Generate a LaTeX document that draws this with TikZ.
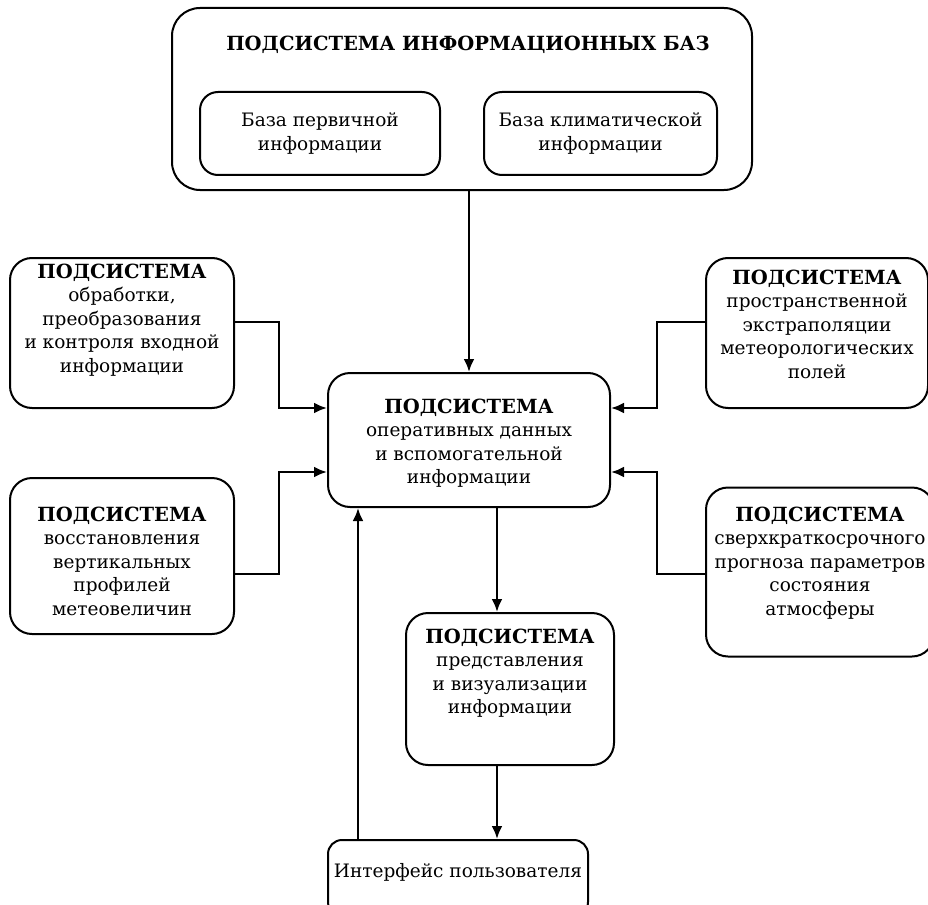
\documentclass[tikz,border=0pt]{standalone}
\usepackage{fontspec}
\setmainfont{DejaVu Serif}
\usetikzlibrary{arrows.meta}
\newcommand{\kopf}[1]{{\fontsize{19.5}{23.5}\selectfont\bfseries #1}}

\begin{document}
\begin{tikzpicture}[x=1pt, y=-1pt,
				box/.style={draw, line width=2pt, rounded corners=22pt, inner sep=0pt},
				txt/.style={align=center, font=\fontsize{18.5}{23.5}\selectfont, inner sep=0pt},
				verb/.style={->, line width=2.6pt},
				>={Latex[length=13pt,width=11pt]}]
				%Bildbereich
				\useasboundingbox (0,0) rectangle (928,904);
				\clip (0,0) rectangle (928,904);
				% Informationsbasen
				\node[box, rounded corners=28pt, minimum width=580pt, minimum height=182pt] (top) at (462,99) {};
				\node[txt] (top-t) at (468,45) {\kopf{ПОДСИСТЕМА ИНФОРМАЦИОННЫХ БАЗ}};
				\node[box, rounded corners=18pt, minimum width=240pt, minimum height=83pt] (base1) at (320,133.5) {};
				\node[txt] (base1-t) at (base1.center) {База первичной\\информации};
				\node[box, rounded corners=18pt, minimum width=233pt, minimum height=83pt] (base2) at (600.5,133.5) {};
				\node[txt] (base2-t) at (base2.center) {База климатической\\информации};
				% Mitte
				\node[box, minimum width=282pt, minimum height=134pt] (mid) at (469,440) {};
				\node[txt] (mid-t) at ([yshift=-3pt]mid.center) {\kopf{ПОДСИСТЕМА}\\оперативных данных\\и вспомогательной\\информации};
				% links
				\node[box, minimum width=224pt, minimum height=150pt] (lt) at (122,333) {};
				\node[txt] (lt-t) at ([yshift=13pt]lt.center) {\kopf{ПОДСИСТЕМА}\\обработки,\\преобразования\\и контроля входной\\информации};
				\node[box, minimum width=224pt, minimum height=156pt] (lb) at (122,556) {};
				\node[txt] (lb-t) at ([yshift=-5pt]lb.center) {\kopf{ПОДСИСТЕМА}\\восстановления\\вертикальных\\профилей\\метеовеличин};
				% rechts
				\node[box, minimum width=222pt, minimum height=150pt] (rt) at (817,333) {};
				\node[txt] (rt-t) at ([yshift=9pt]rt.center) {\kopf{ПОДСИСТЕМА}\\пространственной\\экстраполяции\\метеорологических\\полей};
				\node[box, minimum width=228pt, minimum height=169pt] (rb) at (820,572) {};
				\node[txt] (rb-t) at ([yshift=9pt]rb.center) {\kopf{ПОДСИСТЕМА}\\сверхкраткосрочного\\прогноза параметров\\состояния\\атмосферы};
				% unten
				\node[box, minimum width=208pt, minimum height=152pt] (bm) at (510,689) {};
				\node[txt] (bm-t) at ([yshift=16pt]bm.center) {\kopf{ПОДСИСТЕМА}\\представления\\и визуализации\\информации};
				\node[box, rounded corners=14pt, minimum width=260pt, minimum height=76pt] (ui) at (458,878) {};
				\node[txt] (ui-t) at (458,872) {Интерфейс пользователя};
				%Verbindungen
				\draw[verb] (top.south -| mid.north) -- (mid.north);
				\draw[verb] ([yshift=11pt]lt.east) -- ++(44,0) |- ([yshift=32pt]mid.west);
				\draw[verb] ([yshift=-18pt]lb.east) -- ++(44,0) |- ([yshift=-32pt]mid.west);
				\draw[verb] ([yshift=11pt]rt.west) -- ++(-48,0) |- ([yshift=32pt]mid.east);
				\draw[verb] ([yshift=-2pt]rb.west) -- ++(-48,0) |- ([yshift=-32pt]mid.east);
				\draw[verb] ([xshift=28pt]mid.south) -- ([xshift=28pt]mid.south |- bm.north);
				\draw[verb] ([xshift=-13pt]bm.south) -- ([xshift=-13pt]bm.south |- ui.north);
				\draw[verb] ([xshift=-100pt]ui.north) -- ([xshift=-100pt]ui.north |- mid.south);
\end{tikzpicture}
\end{document}
